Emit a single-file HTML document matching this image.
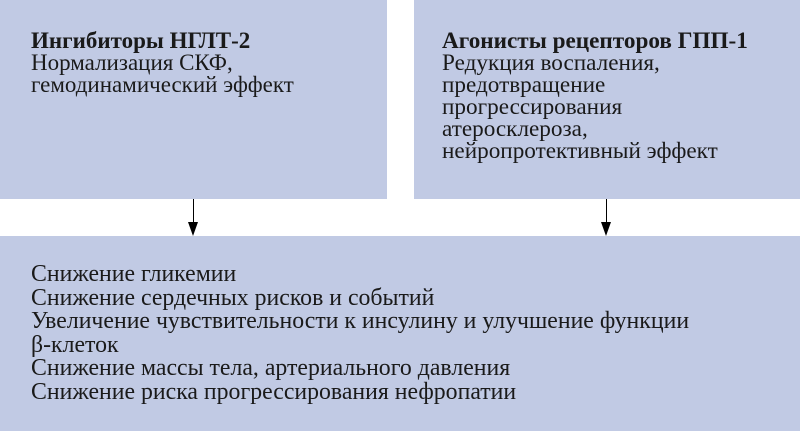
<!DOCTYPE html>
<html><head><meta charset="utf-8"><style>
body{margin:0;width:800px;height:431px;background:#fff;position:relative;overflow:hidden;font-family:"Liberation Serif",serif;color:#1a1a1a;}
.b{position:absolute;background:#c1cae4;}
.t{position:absolute;font-size:23px;line-height:22px;white-space:nowrap;}
.t b{font-weight:bold;}
.ln{position:absolute;width:1px;background:#000;}
.ah{position:absolute;width:0;height:0;border-left:5px solid transparent;border-right:5px solid transparent;border-top:14px solid #000;}
</style></head><body>
<div class="b" style="left:0;top:0;width:387px;height:199px"></div>
<div class="b" style="left:414px;top:0;width:386px;height:199px"></div>
<div class="b" style="left:0;top:236px;width:800px;height:195px"></div>
<div class="t" style="left:31px;top:30px"><b>Ингибиторы НГЛТ-2</b><br>Нормализация СКФ,<br>гемодинамический эффект</div>
<div class="t" style="left:442px;top:30px;font-size:23.2px"><b>Агонисты рецепторов ГПП-1</b><br>Редукция воспаления,<br>предотвращение<br>прогрессирования<br>атеросклероза,<br>нейропротективный эффект</div>
<div class="t" style="left:31px;top:263px;line-height:23.5px;font-size:23.8px">Снижение гликемии<br>Снижение сердечных рисков и событий<br>Увеличение чувствительности к инсулину и улучшение функции<br>β-клеток<br>Снижение массы тела, артериального давления<br>Снижение риска прогрессирования нефропатии</div>
<div class="ln" style="left:193px;top:199px;height:26px"></div>
<div class="ah" style="left:188px;top:222px"></div>
<div class="ln" style="left:606px;top:199px;height:26px"></div>
<div class="ah" style="left:601px;top:222px"></div>
</body></html>
